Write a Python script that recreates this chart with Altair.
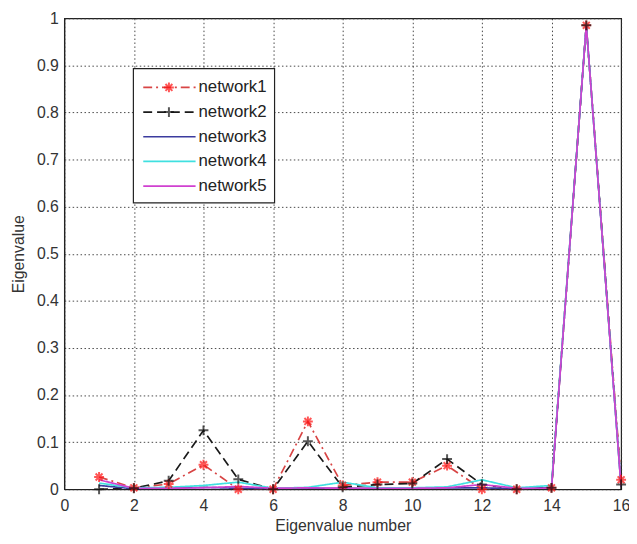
import altair as alt
import pandas as pd

x_vals = list(range(1, 17))
series = ["network1", "network2", "network3", "network4", "network5"]
net1 = [0.026, 0.003, 0.011, 0.052, 0.0, 0.0, 0.144, 0.008, 0.015, 0.015, 0.05, 0.0, 0.0, 0.003, 0.985, 0.02]
net2 = [0.0, 0.002, 0.018, 0.125, 0.021, 0.0, 0.102, 0.004, 0.01, 0.012, 0.064, 0.01, 0.0, 0.003, 0.985, 0.01]
net3 = [0.008, 0.001, 0.002, 0.004, 0.002, 0.001, 0.002, 0.002, 0.002, 0.002, 0.003, 0.003, 0.001, 0.003, 0.985, 0.005]
net4 = [0.013, 0.003, 0.004, 0.008, 0.015, 0.002, 0.004, 0.015, 0.003, 0.003, 0.005, 0.02, 0.003, 0.008, 0.985, 0.005]
net5 = [0.02, 0.002, 0.002, 0.003, 0.006, 0.002, 0.003, 0.002, 0.002, 0.002, 0.003, 0.01, 0.002, 0.002, 0.985, 0.005]
all_vals = [net1, net2, net3, net4, net5]

colors = ["#d84545", "#1a1a1a", "#3b3b9e", "#40e0e0", "#d040d0"]
dashes = [[9, 4, 2, 4], [9, 5], [1, 0], [1, 0], [1, 0]]
marker_colors = ["#ff1010", "#111111"]
asterisk = "M-1,0L1,0M0,-1L0,1M-0.7,-0.7L0.7,0.7M-0.7,0.7L0.7,-0.7"
plus = "M-1,0L1,0M0,-1L0,1"
marker_shapes = [asterisk, plus]

rows = []
for s, vals in zip(series, all_vals):
    for xv, yv in zip(x_vals, vals):
        rows.append({"series": s, "x": xv, "y": yv})
df = pd.DataFrame(rows)

W, H = 564, 477
FONT = "Liberation Sans"

xscale = alt.Scale(domain=[0, 16], nice=False)
yscale = alt.Scale(domain=[0, 1], nice=False)
color_scale = alt.Scale(domain=series, range=colors)
dash_scale = alt.Scale(domain=series, range=dashes)

xaxis = alt.Axis(values=list(range(0, 17, 2)), title="Eigenvalue number", grid=True,
                 gridDash=[1.5, 2.5], gridColor="#333", gridOpacity=0.9,
                 ticks=False, labelFontSize=16, labelFont=FONT, labelColor="#333",
                 labelPadding=9, titleFontSize=16, titleFont=FONT, titleFontWeight="normal",
                 titleColor="#333", titlePadding=4, domainColor="#222", labelFlush=False)
yaxis = alt.Axis(values=[i / 10 for i in range(11)], title="Eigenvalue", grid=True,
                 gridDash=[1.5, 2.5], gridColor="#333", gridOpacity=0.9,
                 ticks=False, labelFontSize=16, labelFont=FONT, labelColor="#333",
                 labelPadding=6, titleFontSize=16, titleFont=FONT, titleFontWeight="normal",
                 titleColor="#333", titlePadding=10, domainColor="#222", labelFlush=False,
                 labelExpr="datum.value == 0 ? '0' : datum.value == 1 ? '1' : format(datum.value, '.1f')")

base = alt.Chart(df)
lines = base.mark_line(strokeWidth=1.7, clip=True).encode(
    x=alt.X("x:Q", scale=xscale, axis=xaxis),
    y=alt.Y("y:Q", scale=yscale, axis=yaxis),
    color=alt.Color("series:N", scale=color_scale, legend=None),
    strokeDash=alt.StrokeDash("series:N", scale=dash_scale, legend=None),
    order=alt.Order("x:Q"),
)

mdf = df[df["series"].isin(series[:2])]
markers = alt.Chart(mdf).mark_point(filled=False, strokeWidth=2, size=100).encode(
    x=alt.X("x:Q", scale=xscale),
    y=alt.Y("y:Q", scale=yscale),
    stroke=alt.Stroke("series:N", scale=alt.Scale(domain=series[:2], range=marker_colors), legend=None),
    shape=alt.Shape("series:N", scale=alt.Scale(domain=series[:2], range=marker_shapes), legend=None),
)

# legend (manual, MATLAB style)
leg_top, leg_step = 70, 25
ldf = pd.DataFrame({"series": series, "py": [leg_top + i * leg_step for i in range(len(series))]})
box = alt.Chart(pd.DataFrame({"a": [0]})).mark_rect(fill="white", stroke="#222", strokeWidth=1.2).encode(
    x=alt.value(70), x2=alt.value(213), y=alt.value(51), y2=alt.value(187))
leg_lines = alt.Chart(ldf).mark_rule(strokeWidth=1.7).encode(
    x=alt.value(80), x2=alt.value(133),
    y=alt.Y("py:Q", scale=None),
    color=alt.Color("series:N", scale=color_scale, legend=None),
    strokeDash=alt.StrokeDash("series:N", scale=dash_scale, legend=None),
)
leg_marks = alt.Chart(ldf[ldf["series"].isin(series[:2])]).mark_point(filled=False, strokeWidth=2, size=100).encode(
    x=alt.value(106),
    y=alt.Y("py:Q", scale=None),
    stroke=alt.Stroke("series:N", scale=alt.Scale(domain=series[:2], range=marker_colors), legend=None),
    shape=alt.Shape("series:N", scale=alt.Scale(domain=series[:2], range=marker_shapes), legend=None),
)
leg_text = alt.Chart(ldf).mark_text(align="left", baseline="middle", font=FONT, fontSize=17, color="#222").encode(
    x=alt.value(136),
    y=alt.Y("py:Q", scale=None),
    text="series:N",
)

chart = alt.layer(lines, markers, box, leg_lines, leg_marks, leg_text).resolve_scale(
    color="independent", stroke="independent", shape="independent", strokeDash="independent"
).properties(
    width=W, height=H,
    autosize=alt.AutoSizeParams(type="none"),
    padding={"left": 57, "top": 7, "right": 8, "bottom": 48},
).configure_view(stroke="#222", strokeWidth=1.2)

chart.save("out.html", embed_options={"renderer": "svg", "actions": False})
